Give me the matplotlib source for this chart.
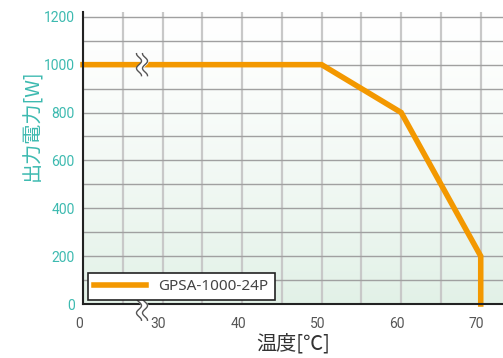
import numpy as np
import matplotlib
matplotlib.use("Agg")
import matplotlib.pyplot as plt
from matplotlib.scale import FuncScale
import matplotlib.transforms as mtransforms

# ---- data ----
temps = [0, 50, 60, 70, 70]
power = [1000, 1000, 800, 200, 0]
series_name = "GPSA-1000-24P"
x_ticks = [0, 30, 40, 50, 60, 70]
x_minor = [15, 35, 45, 55, 65]
y_ticks = [0, 200, 400, 600, 800, 1000, 1200]
y_minor = [100, 300, 500, 700, 900, 1100]
x_label = "温度[℃]"
y_label = "出力電力[W]"

ORANGE = "#f39800"
TEAL = "#3dbab0"

plt.rcParams['font.family'] = ['Roboto', 'Noto Sans CJK JP', 'DejaVu Sans']

fig = plt.figure(figsize=(5.03, 3.58), dpi=100)
ax = fig.add_axes([83/503, 54/358, 1 - 83/503, (304-12)/358])

# broken axis: 0..30 compressed into 20..30
def fwd(x):
    x = np.asarray(x, dtype=float)
    return np.where(x < 30, 20 + x / 3.0, x)

def inv(y):
    y = np.asarray(y, dtype=float)
    return np.where(y < 30, (y - 20) * 3.0, y)

ax.set_xscale(FuncScale(ax, (fwd, inv)))
ax.set_xlim(0, 72.8)
ax.set_ylim(0, 1220)

# gradient background (white top -> pale green bottom)
grad = np.linspace(0, 1, 256).reshape(-1, 1)
c_top = np.array([1.0, 1.0, 1.0])
c_bot = np.array([0xe2, 0xf1, 0xe7]) / 255.0
t = grad ** 1.3
img = (c_top + (c_bot - c_top) * t).reshape(256, 1, 3)
ax.imshow(img, extent=[0, 1, 0, 1], origin='upper', transform=ax.transAxes,
          aspect='auto', zorder=0)

ax.set_xticks(x_ticks)
ax.set_xticks(x_minor, minor=True)
ax.set_yticks(y_ticks)
ax.set_yticks(y_minor, minor=True)

ax.grid(True, axis='x', which='both', color='#c8c8c8', linewidth=1.6, zorder=1)
ax.grid(True, axis='y', which='both', color='#a0a0a0', linewidth=1.0, zorder=1)
ax.set_axisbelow(True)

ax.tick_params(which='both', length=0)
ax.tick_params(axis='x', pad=9, labelsize=10, labelcolor='#555555')
ax.tick_params(axis='y', pad=6, labelsize=10, labelcolor=TEAL)
for lab in ax.get_xticklabels():
    lab.set_transform(lab.get_transform() + mtransforms.ScaledTranslation(-4/100, 0, fig.dpi_scale_trans))

for s in ['top', 'right']:
    ax.spines[s].set_visible(False)
for s in ['left', 'bottom']:
    ax.spines[s].set_color('#222222')
    ax.spines[s].set_linewidth(1.5)
    ax.spines[s].set_zorder(5)

line, = ax.plot(temps, power, color=ORANGE, linewidth=4, zorder=3, solid_joinstyle='miter',
                clip_on=False, label=series_name)

ax.set_xlabel(x_label, fontsize=14.5, color='#333333', labelpad=2,
              family=['Noto Sans CJK JP', 'DejaVu Sans'])
ax.set_ylabel(y_label, fontsize=14.5, color=TEAL, labelpad=2,
              family=['Noto Sans CJK JP', 'DejaVu Sans'])
ax.yaxis.set_label_coords(-0.095, 0.613)

# break marks
def break_mark(xa, ya):
    trans = fig.dpi_scale_trans + mtransforms.ScaledTranslation(xa, ya, ax.transAxes)
    yy = np.linspace(-0.11, 0.11, 60)
    wav = 0.025 * np.sin(yy / 0.11 * 1.5 * np.pi)
    xl = -0.03 + wav
    xr = 0.03 + wav
    ax.fill_betweenx(yy, xl, xr, color='white', transform=trans, zorder=6, clip_on=False)
    ax.plot(xl, yy, color='#555555', lw=1.0, transform=trans, zorder=7, clip_on=False)
    ax.plot(xr, yy, color='#555555', lw=1.0, transform=trans, zorder=7, clip_on=False)

break_mark((142-83)/420, 1000/1220)
break_mark((142-83)/420, -0.018)

leg = ax.legend(loc='lower left', bbox_to_anchor=(5/420, 4/292), borderaxespad=0,
                frameon=True, fancybox=False,
                prop={'family': ['Noto Sans', 'DejaVu Sans'], 'size': 11},
                handlelength=3.4, handletextpad=0.8, borderpad=0.4,
                edgecolor='#222222', framealpha=1)
leg.get_frame().set_linewidth(1.2)
for txt in leg.get_texts():
    txt.set_color('#444444')
leg.set_zorder(8)

fig.savefig("out.png", dpi=100)
